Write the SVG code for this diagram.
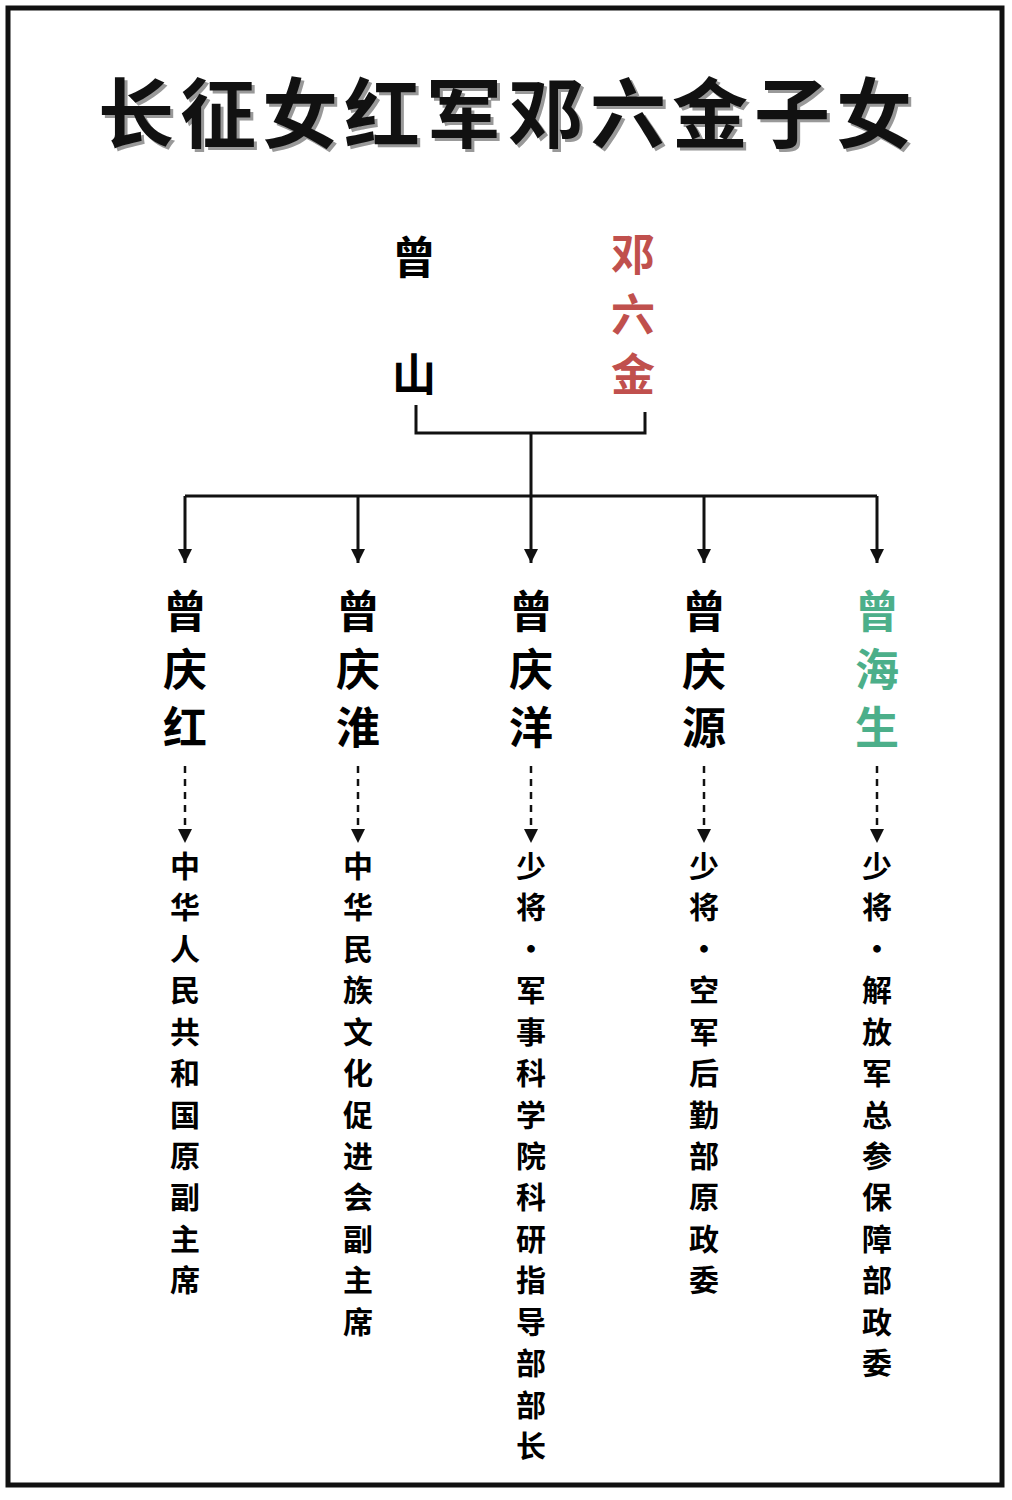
<svg xmlns="http://www.w3.org/2000/svg" width="1012" height="1500" viewBox="0 0 1012 1500">
<style>
.t{font-family:"Noto Sans CJK SC",sans-serif;font-weight:700;text-anchor:middle}
.n{font-size:44px}
.j{font-size:30px}
.ln{stroke:#111;stroke-width:3;fill:none}
.ds{stroke:#111;stroke-width:2.5;fill:none;stroke-dasharray:7,6}
</style>
<defs>
<marker id="b" viewBox="0 0 10 10" refX="5" refY="10" markerWidth="14" markerHeight="14" markerUnits="userSpaceOnUse" orient="0"><path d="M0,0L10,0L5,10z" fill="#111"/></marker>
</defs>
<rect width="1012" height="1500" fill="#fff"/>
<rect x="8" y="8" width="994" height="1477" fill="none" stroke="#111" stroke-width="5"/>
<g id="title">
<text x="511" y="145" class="t" font-size="76" fill="#999" letter-spacing="6">长征女红军邓六金子女</text>
<text x="508" y="142" class="t" font-size="76" fill="#111" letter-spacing="6">长征女红军邓六金子女</text>
</g>
<g id="father" class="t n"><text x="414" y="274">曾</text><text x="414" y="391">山</text></g>
<g id="mother" class="t n" fill="#c0504d"><text x="633" y="271">邓</text><text x="633" y="331">六</text><text x="633" y="391">金</text></g>
<g id="connectors">
<path class="ln" d="M416,405V433H645V412M531,433V496M185,496H877"/>
<path class="ln" d="M185,496V563" marker-end="url(#b)"/>
<path class="ln" d="M358,496V563" marker-end="url(#b)"/>
<path class="ln" d="M531,496V563" marker-end="url(#b)"/>
<path class="ln" d="M704,496V563" marker-end="url(#b)"/>
<path class="ln" d="M877,496V563" marker-end="url(#b)"/>
<path class="ds" d="M185,766V843" marker-end="url(#b)"/>
<path class="ds" d="M358,766V843" marker-end="url(#b)"/>
<path class="ds" d="M531,766V843" marker-end="url(#b)"/>
<path class="ds" d="M704,766V843" marker-end="url(#b)"/>
<path class="ds" d="M877,766V843" marker-end="url(#b)"/>
</g>
<g id="c1" class="t"><text class="n" x="185" y="628">曾</text><text class="n" x="185" y="686">庆</text><text class="n" x="185" y="744">红</text>
<text class="j" x="185" y="877">中</text><text class="j" x="185" y="918">华</text><text class="j" x="185" y="960">人</text><text class="j" x="185" y="1001">民</text><text class="j" x="185" y="1043">共</text><text class="j" x="185" y="1084">和</text><text class="j" x="185" y="1126">国</text><text class="j" x="185" y="1167">原</text><text class="j" x="185" y="1208">副</text><text class="j" x="185" y="1250">主</text><text class="j" x="185" y="1291">席</text></g>
<g id="c2" class="t"><text class="n" x="358" y="628">曾</text><text class="n" x="358" y="686">庆</text><text class="n" x="358" y="744">淮</text>
<text class="j" x="358" y="877">中</text><text class="j" x="358" y="918">华</text><text class="j" x="358" y="960">民</text><text class="j" x="358" y="1001">族</text><text class="j" x="358" y="1043">文</text><text class="j" x="358" y="1084">化</text><text class="j" x="358" y="1126">促</text><text class="j" x="358" y="1167">进</text><text class="j" x="358" y="1208">会</text><text class="j" x="358" y="1250">副</text><text class="j" x="358" y="1291">主</text><text class="j" x="358" y="1333">席</text></g>
<g id="c3" class="t"><text class="n" x="531" y="628">曾</text><text class="n" x="531" y="686">庆</text><text class="n" x="531" y="744">洋</text>
<text class="j" x="531" y="877">少</text><text class="j" x="531" y="918">将</text><text class="j" x="531" y="960">·</text><text class="j" x="531" y="1001">军</text><text class="j" x="531" y="1043">事</text><text class="j" x="531" y="1084">科</text><text class="j" x="531" y="1126">学</text><text class="j" x="531" y="1167">院</text><text class="j" x="531" y="1208">科</text><text class="j" x="531" y="1250">研</text><text class="j" x="531" y="1291">指</text><text class="j" x="531" y="1333">导</text><text class="j" x="531" y="1374">部</text><text class="j" x="531" y="1416">部</text><text class="j" x="531" y="1457">长</text></g>
<g id="c4" class="t"><text class="n" x="704" y="628">曾</text><text class="n" x="704" y="686">庆</text><text class="n" x="704" y="744">源</text>
<text class="j" x="704" y="877">少</text><text class="j" x="704" y="918">将</text><text class="j" x="704" y="960">·</text><text class="j" x="704" y="1001">空</text><text class="j" x="704" y="1043">军</text><text class="j" x="704" y="1084">后</text><text class="j" x="704" y="1126">勤</text><text class="j" x="704" y="1167">部</text><text class="j" x="704" y="1208">原</text><text class="j" x="704" y="1250">政</text><text class="j" x="704" y="1291">委</text></g>
<g id="c5" class="t"><g fill="#4caf8a"><text class="n" x="877" y="628">曾</text><text class="n" x="877" y="686">海</text><text class="n" x="877" y="744">生</text></g>
<text class="j" x="877" y="877">少</text><text class="j" x="877" y="918">将</text><text class="j" x="877" y="960">·</text><text class="j" x="877" y="1001">解</text><text class="j" x="877" y="1043">放</text><text class="j" x="877" y="1084">军</text><text class="j" x="877" y="1126">总</text><text class="j" x="877" y="1167">参</text><text class="j" x="877" y="1208">保</text><text class="j" x="877" y="1250">障</text><text class="j" x="877" y="1291">部</text><text class="j" x="877" y="1333">政</text><text class="j" x="877" y="1374">委</text></g>
</svg>
